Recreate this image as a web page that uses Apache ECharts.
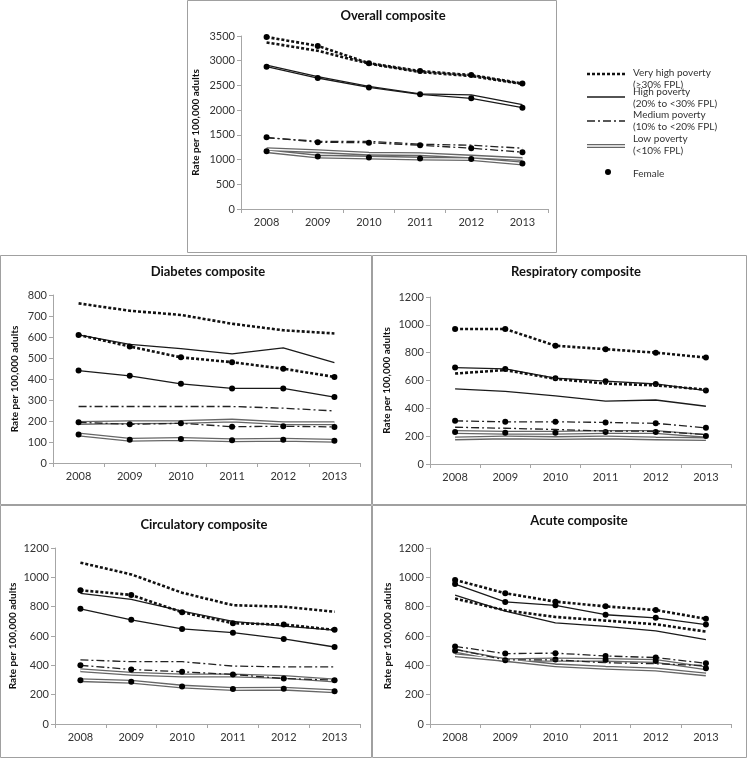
<!DOCTYPE html>
<html><head><meta charset="utf-8">
<script src="https://cdn.jsdelivr.net/npm/echarts@6/dist/echarts.min.js"></script>
<style>html,body{margin:0;padding:0;background:#fff}#c{width:747px;height:758px}</style>
</head><body><div id="c"></div>
<script>
const years = ['2008','2009','2010','2011','2012','2013'];

// Overall composite
const overallVeryHighMale   = [3370,3200,2940,2770,2690,2530];
const overallVeryHighFemale = [3480,3300,2950,2790,2710,2540];
const overallHighMale       = [2910,2680,2480,2330,2310,2110];
const overallHighFemale     = [2880,2650,2460,2320,2240,2050];
const overallMediumMale     = [1440,1370,1370,1310,1290,1230];
const overallMediumFemale   = [1450,1350,1340,1290,1230,1150];
const overallLowMale        = [1210,1170,1120,1110,1060,1010];
const overallLowFemale      = [1170,1060,1040,1020,1010,920];

// Diabetes composite
const diabetesVeryHighMale   = [760,725,705,663,632,617];
const diabetesVeryHighFemale = [610,555,503,480,449,410];
const diabetesHighMale       = [610,565,545,520,548,478];
const diabetesHighFemale     = [440,415,377,355,355,314];
const diabetesMediumMale     = [269,269,269,269,261,248];
const diabetesMediumFemale   = [194,184,189,173,175,172];
const diabetesLowMale        = [191,194,195,202,189,189];
const diabetesLowFemale      = [136,111,114,108,111,106];

// Respiratory composite
const respVeryHighMale   = [650,675,612,578,565,535];
const respVeryHighFemale = [970,970,850,825,800,765];
const respHighMale       = [540,522,490,452,460,415];
const respHighFemale     = [693,683,617,595,575,528];
const respMediumMale     = [264,257,248,237,235,212];
const respMediumFemale   = [310,303,303,299,292,260];
const respLowMale        = [184,191,186,191,184,179];
const respLowFemale      = [230,225,225,230,230,202];

// Circulatory composite
const circVeryHighMale   = [1100,1020,895,810,800,765];
const circVeryHighFemale = [912,880,762,687,678,642];
const circHighMale       = [890,850,770,700,667,640];
const circHighFemale     = [785,710,648,623,580,525];
const circMediumMale     = [437,425,425,395,389,389];
const circMediumFemale   = [400,372,356,338,310,299];
const circLowMale        = [366,343,331,331,320,297];
const circLowFemale      = [299,288,255,239,241,223];

// Acute composite
const acuteVeryHighMale   = [855,775,730,705,680,630];
const acuteVeryHighFemale = [982,892,834,802,777,717];
const acuteHighMale       = [878,770,690,665,635,575];
const acuteHighFemale     = [954,832,809,745,724,678];
const acuteMediumMale     = [510,437,437,418,411,398];
const acuteMediumFemale   = [529,480,483,464,453,414];
const acuteLowMale        = [469,437,400,384,372,338];
const acuteLowFemale      = [499,435,440,437,430,380];

const panelTitles = ['Overall composite','Diabetes composite','Respiratory composite','Circulatory composite','Acute composite'];
const axisMax = [3500, 800, 1200, 1200, 1200];
const axisStep = [500, 100, 200, 200, 200];
const yAxisName = 'Rate per 100,000 adults';
const legendLabels = [['Very high poverty','(≥30% FPL)'],['High poverty','(20% to <30% FPL)'],['Medium poverty','(10% to <20% FPL)'],['Low poverty','(<10% FPL)'],['Female']];

const panelData = [
  [overallVeryHighMale, overallVeryHighFemale, overallHighMale, overallHighFemale, overallMediumMale, overallMediumFemale, overallLowMale, overallLowFemale],
  [diabetesVeryHighMale, diabetesVeryHighFemale, diabetesHighMale, diabetesHighFemale, diabetesMediumMale, diabetesMediumFemale, diabetesLowMale, diabetesLowFemale],
  [respVeryHighMale, respVeryHighFemale, respHighMale, respHighFemale, respMediumMale, respMediumFemale, respLowMale, respLowFemale],
  [circVeryHighMale, circVeryHighFemale, circHighMale, circHighFemale, circMediumMale, circMediumFemale, circLowMale, circLowFemale],
  [acuteVeryHighMale, acuteVeryHighFemale, acuteHighMale, acuteHighFemale, acuteMediumMale, acuteMediumFemale, acuteLowMale, acuteLowFemale]
];

// layout (pixels)
const grids = [
  {left:241, top:36, width:307, height:173},
  {left:53,  top:295, width:307, height:168},
  {left:430, top:297, width:301, height:167},
  {left:55,  top:548, width:305, height:176},
  {left:430, top:548, width:301, height:176}
];
const nameGaps = [40, 33, 38, 37, 37];
const titlePos = [[393,16],[208,272],[576,272],[204,525],[579,521]];
const boxes = [[187,0,369,252],[0,255,371,249],[372,255,374,249],[0,505,371,252],[372,505,374,252]];

const FONT = 'Lato, "Open Sans", sans-serif';
const DOT = {type:[3,2], width:2.6, color:'#111', cap:'butt'};
const SOLID = {type:'solid', width:1.3, color:'#1a1a1a'};
const DASHDOT = {type:[8,3,2,3], width:1.3, color:'#222'};
const DOUBLE_OUT = {type:'solid', width:4, color:'#666'};
const DOUBLE_IN = {type:'solid', width:1.4, color:'#ffffff'};

const series = [];
function addLine(data, gi, style, female, z) {
  series.push({
    type:'line', data:data, xAxisIndex:gi, yAxisIndex:gi, z:z,
    lineStyle:Object.assign({}, style),
    symbol: female ? 'circle' : 'none', symbolSize:6, showSymbol:female,
    itemStyle:{color:'#000', borderWidth:0},
    silent:true, animation:false
  });
}
panelData.forEach((d, gi) => {
  addLine(d[6], gi, DOUBLE_OUT, false, 2);
  addLine(d[6], gi, DOUBLE_IN, false, 3);
  addLine(d[7], gi, DOUBLE_OUT, false, 2);
  addLine(d[7], gi, DOUBLE_IN, true, 3);
  addLine(d[4], gi, DASHDOT, false, 4);
  addLine(d[5], gi, DASHDOT, true, 4);
  addLine(d[2], gi, SOLID, false, 5);
  addLine(d[3], gi, SOLID, true, 5);
  addLine(d[0], gi, DOT, false, 6);
  addLine(d[1], gi, DOT, true, 6);
});

const xAxes = grids.map((g, i) => ({
  type:'category', gridIndex:i, data:years, boundaryGap:true,
  axisLine:{lineStyle:{color:'#a6a6a6', width:1}},
  axisTick:{show:true, length:4, lineStyle:{color:'#a6a6a6'}},
  axisLabel:{color:'#333', fontSize:11, fontFamily:FONT, margin:8},
  splitLine:{show:false}
}));
const yAxes = grids.map((g, i) => ({
  type:'value', gridIndex:i, min:0, max:axisMax[i], interval:axisStep[i],
  name:yAxisName, nameLocation:'middle', nameRotate:90, nameGap:nameGaps[i],
  nameTextStyle:{color:'#111', fontSize:10, fontWeight:'bold', fontFamily:FONT},
  axisLine:{show:true, lineStyle:{color:'#a6a6a6', width:1}},
  axisTick:{show:true, length:4, lineStyle:{color:'#a6a6a6'}},
  axisLabel:{color:'#333', fontSize:11, fontFamily:FONT, margin:6, formatter: v => String(v)},
  splitLine:{show:false}
}));

const graphics = [];
boxes.forEach(b => graphics.push({type:'rect', shape:{x:b[0]+0.5, y:b[1]+0.5, width:b[2], height:b[3]}, style:{fill:null, stroke:'#a0a0a0', lineWidth:1}, z:-1, silent:true}));
panelTitles.forEach((t, i) => graphics.push({type:'text', x:titlePos[i][0], y:titlePos[i][1], style:{text:t, font:'bold 13px ' + FONT, fill:'#111', align:'center', verticalAlign:'middle'}, silent:true}));

// legend (drawn)
const lgX1 = 587, lgX2 = 625, lgTx = 633;
const lgLineY = [74, 97, 121, 146];
const lgTextY = [[73, 85], [92, 104], [115, 127], [139, 151], [174]];
graphics.push({type:'line', shape:{x1:lgX1, y1:lgLineY[0], x2:lgX2, y2:lgLineY[0]}, style:{stroke:'#111', lineWidth:2.6, lineDash:[3,2]}});
graphics.push({type:'line', shape:{x1:lgX1, y1:lgLineY[1], x2:lgX2, y2:lgLineY[1]}, style:{stroke:'#1a1a1a', lineWidth:1.3}});
graphics.push({type:'line', shape:{x1:lgX1, y1:lgLineY[2], x2:lgX2, y2:lgLineY[2]}, style:{stroke:'#222', lineWidth:1.3, lineDash:[8,3,2,3]}});
graphics.push({type:'line', shape:{x1:lgX1, y1:lgLineY[3], x2:lgX2, y2:lgLineY[3]}, style:{stroke:'#666', lineWidth:4}});
graphics.push({type:'line', shape:{x1:lgX1, y1:lgLineY[3], x2:lgX2, y2:lgLineY[3]}, style:{stroke:'#fff', lineWidth:1.4}, z:2});
graphics.push({type:'circle', shape:{cx:608, cy:172, r:3}, style:{fill:'#000'}});
legendLabels.forEach((lines, i) => lines.forEach((s, j) => graphics.push({type:'text', x:lgTx, y:lgTextY[i][j], style:{text:s, font:'10px ' + FONT, fill:'#333', align:'left', verticalAlign:'middle'}})));

const chart = echarts.init(document.getElementById('c'), null, {renderer:'canvas'});
chart.setOption({
  animation:false,
  backgroundColor:'#fff',
  grid: grids.map(g => Object.assign({containLabel:false}, g)),
  xAxis: xAxes,
  yAxis: yAxes,
  series: series,
  graphic: graphics
});
</script>
</body></html>
